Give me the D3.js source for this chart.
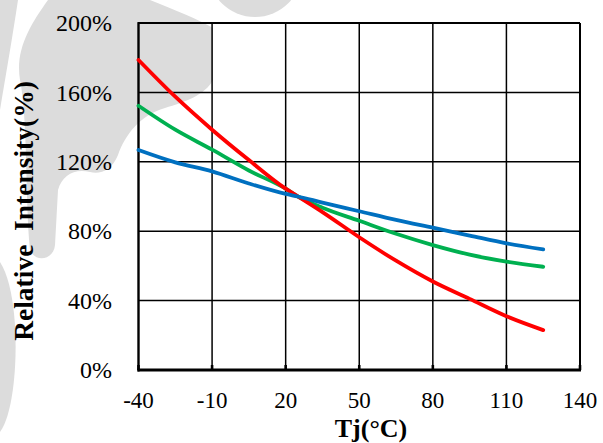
<!DOCTYPE html>
<html>
<head>
<meta charset="utf-8">
<script src="https://cdn.jsdelivr.net/npm/d3@7"></script>
<style>
  html, body { margin: 0; padding: 0; background: #fff; }
  svg { display: block; }
  text { font-family: "Liberation Serif", "Times New Roman", Tinos, "DejaVu Serif", serif; }
</style>
</head>
<body>
<svg id="chart" width="603" height="443"></svg>
<script>
// ---- data ----
const temps = [-40, -25, -10, 5, 20, 25, 35, 50, 65, 80, 95, 110, 125];
const redVals   = [178.7, 157.5, 138.5, 121, 104.5, 100, 91, 76.5, 63, 51, 41, 31, 23];
const greenVals = [152.3, 138.5, 127, 115, 104.5, 100, 93.5, 86, 78.5, 72, 66.5, 62.5, 59.5];
const blueVals  = [126.8, 119.7, 114.5, 107.5, 101.5, 100, 96.5, 91.5, 86.5, 82, 77.5, 73, 69.5];
const xTicks = [-40, -10, 20, 50, 80, 110, 140];
const yTicks = [0, 40, 80, 120, 160, 200];
const xTitle = "Tj(°C)";
const yTitle = "Relative\u00a0\u00a0Intensity(%)";

const svg = d3.select("#chart");
const x = d3.scaleLinear().domain([-40, 140]).range([138.5, 580]);
const y = d3.scaleLinear().domain([0, 200]).range([370, 23]);

// ---- watermark (decorative background) ----
const wm = svg.append("g").attr("fill", "#dcdcdc");
wm.append("path").attr("d", "M0,0 L18,0 C12,40 5,80 0,110 Z");
wm.append("path").attr("d",
  "M48,0 L150,0 C175,10 200,20 213,28 L213,80 C205,95 185,102 165,108 " +
  "C140,115 125,135 118,155 C112,170 100,175 90,172 C75,168 62,175 58,190 " +
  "L55,245 C54,260 35,263 30,250 C25,200 28,120 20,80 C15,50 30,25 48,0 Z");
wm.append("circle").attr("cx", 255).attr("cy", -30).attr("r", 47);
wm.append("path").attr("d", "M0,262 C15,285 18,340 14,380 C11,410 5,425 0,432 Z");

// ---- grid ----
const grid = svg.append("g").attr("stroke", "#000").attr("stroke-width", 1.5);
grid.selectAll("line.v").data(xTicks).join("line")
  .attr("x1", d => x(d)).attr("x2", d => x(d))
  .attr("y1", y(200)).attr("y2", y(0));
grid.selectAll("line.h").data(yTicks).join("line")
  .attr("x1", x(-40)).attr("x2", x(140))
  .attr("y1", d => y(d)).attr("y2", d => y(d));

// frame (thicker left/bottom)
svg.append("line").attr("x1", x(-40)).attr("x2", x(-40)).attr("y1", y(200) - 1).attr("y2", y(0) + 1.5)
  .attr("stroke", "#000").attr("stroke-width", 2.2);
svg.append("line").attr("x1", x(-40) - 1).attr("x2", x(140) + 1).attr("y1", y(0)).attr("y2", y(0))
  .attr("stroke", "#000").attr("stroke-width", 2.8);
svg.append("line").attr("x1", x(140)).attr("x2", x(140)).attr("y1", y(200)).attr("y2", y(0))
  .attr("stroke", "#000").attr("stroke-width", 2);
svg.append("line").attr("x1", x(-40)).attr("x2", x(140)).attr("y1", y(200)).attr("y2", y(200))
  .attr("stroke", "#000").attr("stroke-width", 2);
// inward tick stubs
svg.append("g").selectAll("line").data(xTicks).join("line")
  .attr("x1", d => x(d)).attr("x2", d => x(d))
  .attr("y1", y(0)).attr("y2", y(0) - 5)
  .attr("stroke", "#000").attr("stroke-width", 2.6);

// ---- axis labels ----
svg.append("g").selectAll("text").data(yTicks).join("text")
  .attr("x", 112).attr("y", d => y(d)).attr("dy", "0.34em")
  .attr("text-anchor", "end").attr("font-size", 24)
  .text(d => d + "%");
svg.append("g").selectAll("text").data(xTicks).join("text")
  .attr("x", d => x(d)).attr("y", 408)
  .attr("text-anchor", "middle").attr("font-size", 23)
  .text(d => d);

svg.append("text").attr("x", 371).attr("y", 437)
  .attr("text-anchor", "middle").attr("font-size", 26)
  .attr("font-weight", "bold").text(xTitle);
svg.append("text").attr("transform", "translate(33,211) rotate(-90)")
  .attr("text-anchor", "middle").attr("font-size", 27.5)
  .attr("font-weight", "bold").text(yTitle);

// ---- curves ----
const line = d3.line().x(d => x(d[0])).y(d => y(d[1])).curve(d3.curveMonotoneX);
const series = [
  { vals: greenVals, color: "#00B050" },
  { vals: redVals,   color: "#FF0000" },
  { vals: blueVals,  color: "#0070C0" }
];
svg.append("g").selectAll("path").data(series).join("path")
  .attr("d", s => line(temps.map((t, i) => [t, s.vals[i]])))
  .attr("fill", "none").attr("stroke", s => s.color)
  .attr("stroke-width", 3.8).attr("stroke-linecap", "round");
</script>
</body>
</html>
